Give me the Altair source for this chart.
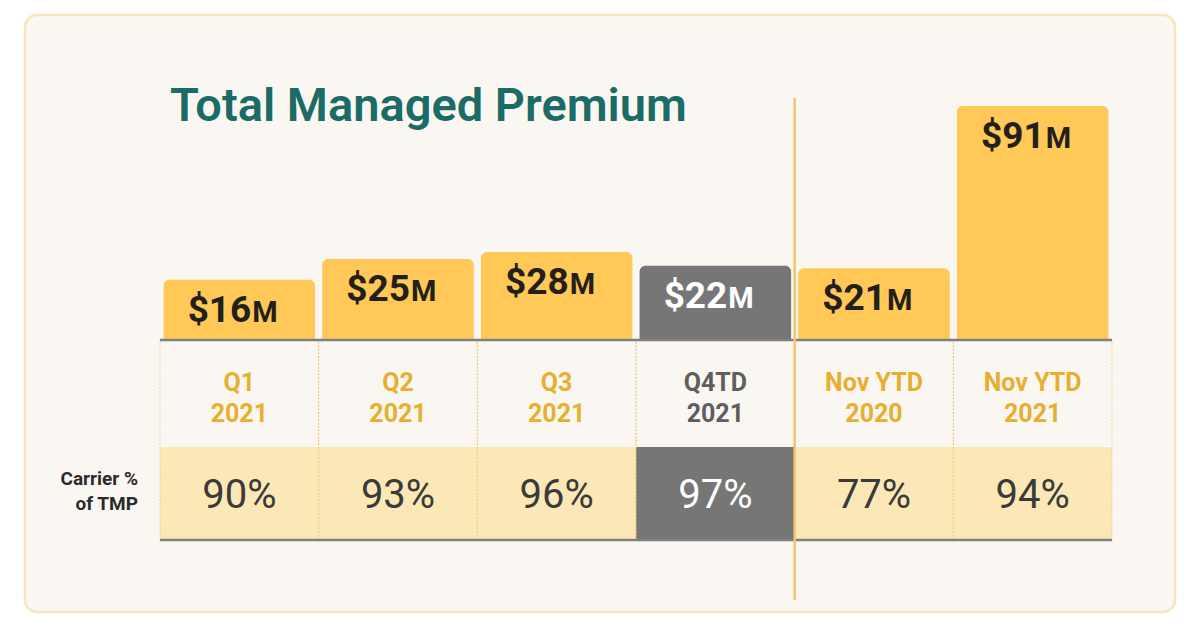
import altair as alt
import pandas as pd

# ---- data ----
CATEGORIES = ["Q1 2021", "Q2 2021", "Q3 2021", "Q4TD 2021", "Nov YTD 2020", "Nov YTD 2021"]
LINE1 = ["Q1", "Q2", "Q3", "Q4TD", "Nov YTD", "Nov YTD"]
LINE2 = ["2021", "2021", "2021", "2021", "2020", "2021"]
PREMIUM_M = [16, 25, 28, 22, 21, 91]
CARRIER_PCT = [90, 93, 96, 97, 77, 94]
HIGHLIGHT = "Q4TD 2021"
TITLE = "Total Managed Premium"
ROW_LABEL = ["Carrier %", "of TMP"]

df = pd.DataFrame({"cat": CATEGORIES, "line1": LINE1, "line2": LINE2,
                   "value": PREMIUM_M, "pct": CARRIER_PCT})
df["amount"] = "$" + df["value"].astype(str)
df["pct_label"] = df["pct"].astype(str) + "%"

FONT = "Roboto"
W, H = 1184, 611
X0, X1 = 152, 1104          # table left/right
BASE, TOP = 332, 98         # baseline of bars, top of the largest bar
ROW_MID, ROW_BOT = 439, 532
Y_MIN = -10                 # value axis starts below zero so short bars hold their labels

YELLOW = "#FFC857"
GREY = "#767676"
GOLD = "#E8AE2E"
CARD = "#FAF7F2"
is_hl = alt.datum.cat == HIGHLIGHT

XSCALE = alt.Scale(range=[X0, X1], paddingInner=0, paddingOuter=0)
xenc = alt.X("cat:N", sort=CATEGORIES, axis=None, scale=XSCALE)
yenc = alt.Y("value:Q", axis=None,
             scale=alt.Scale(domain=[Y_MIN, max(PREMIUM_M)], range=[BASE, TOP], zero=False, nice=False))

one = alt.Data(values=[{"k": 1}])
base = alt.Chart(df)

card = alt.Chart(one).mark_rect(cornerRadius=12, fill=CARD, stroke="#F7E6BC", strokeWidth=2.5).encode(
    x=alt.value(17), x2=alt.value(1167), y=alt.value(7), y2=alt.value(604))

title = alt.Chart(one).mark_text(align="left", baseline="alphabetic", font=FONT, fontSize=47,
                                 fontWeight=600, color="#1B6B67").encode(
    x=alt.value(162), y=alt.value(113), text=alt.value(TITLE))

cells = base.mark_rect().encode(
    x=xenc, y=alt.value(ROW_MID), y2=alt.value(ROW_BOT),
    color=alt.condition(is_hl, alt.value(GREY), alt.value("#FBE8B6")))

# dotted column separators drawn as the dashed outline of each column
seps = base.mark_rect(fillOpacity=0, stroke="#EBC874", strokeDash=[1.5, 2], strokeWidth=1).encode(
    x=xenc, y=alt.value(BASE), y2=alt.value(ROW_BOT))

bars = base.mark_bar(width=alt.RelativeBandSize(0.955), cornerRadiusTopLeft=6,
                     cornerRadiusTopRight=6).encode(
    x=xenc, y=yenc, y2=alt.datum(Y_MIN),
    color=alt.condition(is_hl, alt.value(GREY), alt.value(YELLOW)))

line_top = alt.Chart(one).mark_rule(color="#808080", strokeWidth=2.5).encode(
    x=alt.value(X0), x2=alt.value(X1), y=alt.value(BASE))
line_bot = alt.Chart(one).mark_rule(color="#808080", strokeWidth=2.5).encode(
    x=alt.value(X0), x2=alt.value(X1), y=alt.value(ROW_BOT))

txt_col = alt.condition(is_hl, alt.value("white"), alt.value("#231F1A"))
amount = base.mark_text(align="right", baseline="alphabetic", dx=12, dy=42, font=FONT,
                        fontSize=37, fontWeight="bold").encode(
    x=xenc, y=yenc, text="amount:N", color=txt_col)
unit = base.mark_text(align="left", baseline="alphabetic", dx=13, dy=42, font=FONT,
                      fontSize=29, fontWeight="bold").encode(
    x=xenc, y=yenc, text=alt.value("M"), color=txt_col)

per_col = alt.condition(is_hl, alt.value("#5E5E5E"), alt.value(GOLD))
p1 = base.mark_text(baseline="alphabetic", font=FONT, fontSize=25, fontWeight="bold").encode(
    x=xenc, y=alt.value(383), text="line1:N", color=per_col)
p2 = base.mark_text(baseline="alphabetic", font=FONT, fontSize=25, fontWeight="bold").encode(
    x=xenc, y=alt.value(414), text="line2:N", color=per_col)

pct = base.mark_text(baseline="alphabetic", font=FONT, fontSize=40).encode(
    x=xenc, y=alt.value(500), text="pct_label:N",
    color=alt.condition(is_hl, alt.value("white"), alt.value("#3A3A3A")))

rl1 = alt.Chart(one).mark_text(align="right", baseline="alphabetic", font=FONT, fontSize=19,
                               fontWeight="bold", color="#2A2A2A").encode(
    x=alt.value(130), y=alt.value(477), text=alt.value(ROW_LABEL[0]))
rl2 = alt.Chart(one).mark_text(align="right", baseline="alphabetic", font=FONT, fontSize=19,
                               fontWeight="bold", color="#2A2A2A").encode(
    x=alt.value(130), y=alt.value(502), text=alt.value(ROW_LABEL[1]))

divider = alt.Chart(one).mark_rule(color="#F0C66E", strokeWidth=2.5).encode(
    x=alt.value(X0 + 4 * (X1 - X0) / 6), y=alt.value(90), y2=alt.value(592))

chart = alt.layer(card, title, cells, seps, bars, line_top, line_bot,
                  amount, unit, p1, p2, pct, rl1, rl2, divider).properties(
    width=W, height=H, autosize="none", padding=0, background="white"
).configure_view(stroke=None)

chart.save("out.html", embed_options={"renderer": "svg", "actions": False})
